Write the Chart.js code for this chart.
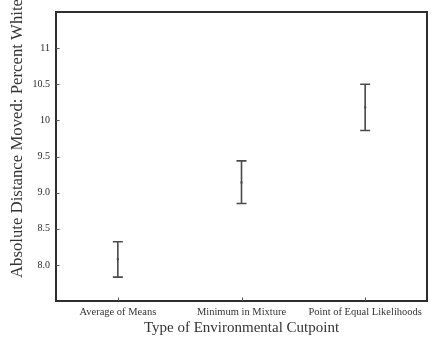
<!DOCTYPE html>
<html>
<head>
<meta charset="utf-8">
<script src="https://cdn.jsdelivr.net/npm/chart.js@4/dist/chart.umd.min.js"></script>
<style>
  html, body { margin: 0; padding: 0; background: #ffffff; }
  #wrap { width: 441px; height: 339px; position: relative; }
</style>
</head>
<body>
<div id="wrap"><canvas id="chart" width="441" height="339"></canvas></div>
<script>
// Cutpoint types and the mean distance moved, with interval bounds
const categories = ["Average of Means", "Minimum in Mixture", "Point of Equal Likelihoods"];
const means = [8.08, 9.14, 10.18];
const upper = [8.32, 9.44, 10.50];
const lower = [7.83, 8.85, 9.86];
const yTickValues = [8, 8.5, 9, 9.5, 10, 10.5, 11];
const yTickLabels = ["8.0", "8.5", "9.0", "9.5", "10", "10.5", "11"];
const yTitle = "Absolute Distance Moved: Percent White";

const SERIF = "'Liberation Serif', 'Times New Roman', serif";
const TEXT = "#333333";
const INK = "#4a4a4a";

// Vertical interval with end caps at every category
const errorBars = {
  id: "errorBars",
  beforeDatasetsDraw(chart) {
    const { ctx, scales: { x, y } } = chart;
    ctx.save();
    ctx.strokeStyle = INK;
    ctx.lineWidth = 1.6;
    const half = 5;
    categories.forEach((c, i) => {
      const px = x.getPixelForValue(i);
      const top = y.getPixelForValue(upper[i]);
      const bot = y.getPixelForValue(lower[i]);
      ctx.beginPath();
      ctx.moveTo(px, top); ctx.lineTo(px, bot);
      ctx.moveTo(px - half, top); ctx.lineTo(px + half, top);
      ctx.moveTo(px - half, bot); ctx.lineTo(px + half, bot);
      ctx.stroke();
    });
    ctx.restore();
  }
};

// Closed frame round the plot with short inward tick marks
const frame = {
  id: "frame",
  afterDraw(chart) {
    const { ctx, chartArea: a, scales: { x, y } } = chart;
    ctx.save();
    ctx.strokeStyle = "#2e2e2e";
    ctx.lineWidth = 2;
    ctx.strokeRect(a.left, a.top, a.right - a.left, a.bottom - a.top);
    ctx.lineWidth = 1;
    ctx.strokeStyle = "#555555";
    ctx.beginPath();
    y.ticks.forEach((t, i) => {
      const py = Math.round(y.getPixelForTick(i)) + 0.5;
      ctx.moveTo(a.left, py); ctx.lineTo(a.left + 3.5, py);
    });
    x.ticks.forEach((t, i) => {
      const px = Math.round(x.getPixelForTick(i)) + 0.5;
      ctx.moveTo(px, a.bottom); ctx.lineTo(px, a.bottom - 3.5);
    });
    ctx.stroke();

    // Rotated y-axis title, set a little above the plot's centre
    ctx.fillStyle = TEXT;
    ctx.font = "16.75px " + SERIF;
    ctx.textAlign = "center";
    ctx.textBaseline = "middle";
    ctx.translate(17.7, 138.5);
    ctx.rotate(-Math.PI / 2);
    ctx.fillText(yTitle, 0, 0);
    ctx.restore();
  }
};

new Chart(document.getElementById("chart"), {
  type: "line",
  data: {
    labels: categories,
    datasets: [{
      data: means,
      showLine: false,
      pointStyle: "rect",
      pointRadius: 1.5,
      pointBackgroundColor: INK,
      pointBorderColor: INK,
      pointBorderWidth: 0
    }]
  },
  options: {
    responsive: false,
    animation: false,
    devicePixelRatio: 1,
    layout: { padding: { top: 8, right: 14, left: 0, bottom: 0 } },
    plugins: { legend: { display: false }, tooltip: { enabled: false } },
    scales: {
      x: {
        type: "category",
        offset: true,
        grid: { display: false, drawTicks: false },
        border: { display: false },
        ticks: { color: TEXT, font: { family: SERIF, size: 10.5 }, padding: 5, maxRotation: 0, autoSkip: false },
        title: {
          display: true,
          text: "Type of Environmental Cutpoint",
          color: TEXT,
          font: { family: SERIF, size: 15 },
          padding: { top: 0, bottom: 2 }
        },
        afterFit(scale) { scale.height = 38; }
      },
      y: {
        min: 7.5,
        max: 11.5,
        grid: { display: false, drawTicks: false },
        border: { display: false },
        afterBuildTicks(scale) { scale.ticks = yTickValues.map(v => ({ value: v })); },
        ticks: {
          color: "#2a2a2a",
          font: { family: SERIF, size: 10 },
          padding: 6,
          callback(value) {
            const k = yTickValues.indexOf(value);
            return k >= 0 ? yTickLabels[k] : "";
          }
        },
        afterFit(scale) { scale.width = 56; }
      }
    }
  },
  plugins: [errorBars, frame]
});
</script>
</body>
</html>
